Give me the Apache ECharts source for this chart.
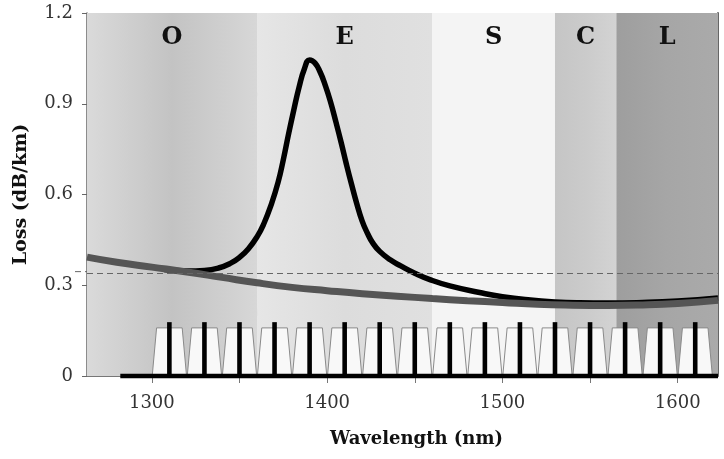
<!DOCTYPE html>
<html>
<head>
<meta charset="utf-8">
<script src="https://cdn.jsdelivr.net/npm/echarts@6/dist/echarts.min.js"></script>
<style>
html, body { margin: 0; padding: 0; background: #fff; }
#chart { width: 724px; height: 459px; }
</style>
</head>
<body>
<div id="chart"></div>
<script>
// bands (nm)
const bandNames = ['O', 'E', 'S', 'C', 'L'];
const bandEdges = [1263, 1360, 1460, 1530, 1565, 1623];

// SSMF loss curve
const ssmfWl = [1307, 1320, 1330, 1338, 1345, 1350, 1355, 1360, 1364, 1368,
  1372, 1375, 1378, 1381, 1384, 1387, 1390, 1393, 1396, 1399,
  1402, 1405, 1408, 1411, 1414, 1417, 1420, 1423, 1426, 1430,
  1436, 1442, 1450, 1459, 1470, 1487, 1500, 1516, 1530, 1544,
  1560, 1580, 1600, 1623];
const ssmfLoss = [0.352, 0.347, 0.349, 0.357, 0.373, 0.392, 0.42, 0.46, 0.505, 0.565,
  0.64, 0.715, 0.80, 0.88, 0.955, 1.015, 1.045, 1.035, 1.005, 0.96,
  0.905, 0.84, 0.772, 0.70, 0.632, 0.568, 0.512, 0.472, 0.44, 0.412,
  0.384, 0.364, 0.34, 0.318, 0.298, 0.276, 0.262, 0.251, 0.245, 0.242,
  0.241, 0.243, 0.248, 0.258];

// ZWP fiber loss curve
const zwpWl = [1263, 1280, 1300, 1320, 1340, 1360, 1380, 1400, 1420, 1440,
  1460, 1480, 1500, 1520, 1540, 1560, 1580, 1600, 1623];
const zwpLoss = [0.393, 0.376, 0.360, 0.344, 0.326, 0.308, 0.293, 0.282, 0.272, 0.264,
  0.256, 0.249, 0.243, 0.237, 0.234, 0.233, 0.235, 0.240, 0.250];

// CWDM grid
const channels = [1310, 1330, 1350, 1370, 1390, 1410, 1430, 1450,
  1470, 1490, 1510, 1530, 1550, 1570, 1590, 1610];
const channelPeak = 0.178;
const filterTop = 0.159;
const baseline = [[1282, 0], [1623, 0]];
const refLoss = 0.345;

const xTicks = [1300, 1350, 1400, 1450, 1500, 1550, 1600];
const xLabels = [1300, 1400, 1500, 1600];

const serif = 'DejaVu Serif';
const bandColors = [
  ['#dadada', '#c3c3c3', '#d7d7d7'],
  ['#e6e6e6', '#dcdcdc', '#e0e0e0'],
  ['#f4f4f4', '#f4f4f4', '#f4f4f4'],
  ['#c5c5c5', '#cbcbcb', '#d3d3d3'],
  ['#9e9e9e', '#a6a6a6', '#aaaaaa']
];

const chart = echarts.init(document.getElementById('chart'));

const bandAreas = bandNames.map((n, i) => [
  {
    name: n, xAxis: bandEdges[i], yAxis: 1.2,
    itemStyle: {
      color: new echarts.graphic.LinearGradient(0, 0, 1, 0, [
        { offset: 0, color: bandColors[i][0] },
        { offset: 0.5, color: bandColors[i][1] },
        { offset: 1, color: bandColors[i][2] }
      ])
    }
  },
  { xAxis: bandEdges[i + 1], yAxis: 0 }
]);

const labels = [
  { type: 'text', left: 212, top: 86, style: { text: 'SSMF', font: 'bold 22px "DejaVu Serif"', fill: '#111' } },
  { type: 'text', left: 225, top: 300, style: { text: 'ZWP fiber', font: 'bold 21px "DejaVu Serif"', fill: '#111' } }
];

let option = {
  animation: false,
  grid: { left: 87, right: 6, top: 13, bottom: 83 },
  xAxis: {
    type: 'value',
    min: 1263,
    max: 1623,
    name: 'Wavelength (nm)',
    nameLocation: 'middle',
    nameGap: 54,
    nameTextStyle: { fontFamily: serif, fontWeight: 'bold', fontSize: 18, color: '#111', padding: [0, 0, 0, 28] },
    axisLine: { show: true, lineStyle: { color: '#777', width: 1 } },
    axisTick: { show: true, length: 7, customValues: xTicks, lineStyle: { color: '#777' } },
    axisLabel: { customValues: xLabels, formatter: v => String(v), margin: 18, fontFamily: serif, fontSize: 18, color: '#333' },
    splitLine: { show: false }
  },
  yAxis: [
    {
      type: 'value',
      min: 0,
      max: 1.2,
      interval: 0.3,
      name: 'Loss (dB/km)',
      nameLocation: 'middle',
      nameGap: 56,
      nameTextStyle: { fontFamily: serif, fontWeight: 'bold', fontSize: 19, color: '#111' },
      axisLine: { show: true, lineStyle: { color: '#666', width: 1.5 } },
      axisTick: { show: true, length: 5, lineStyle: { color: '#666' } },
      axisLabel: { margin: 14, fontFamily: serif, fontSize: 18, color: '#333' },
      splitLine: { show: false }
    },
    {
      type: 'value',
      position: 'right',
      min: 0,
      max: 3.5,
      axisLine: { show: true, lineStyle: { color: '#666', width: 2 } },
      axisTick: { show: true, inside: true, length: 9, customValues: [1, 2, 3], lineStyle: { color: '#666' } },
      axisLabel: { show: false },
      splitLine: { show: false }
    }
  ],
  graphic: labels,
  series: [
    {
      name: 'bands',
      type: 'line',
      data: [],
      z: 0,
      markArea: {
        silent: true,
        label: { show: true, position: 'insideTop', distance: 13, fontFamily: serif, fontWeight: 'bold', fontSize: 24, color: '#111' },
        data: bandAreas
      },
      markLine: {
        silent: true,
        symbol: 'none',
        label: { show: false },
        lineStyle: { type: [6, 4], color: '#666', width: 1 },
        data: [{ yAxis: refLoss }]
      }
    },
    {
      name: 'SSMF',
      type: 'line',
      data: ssmfWl.map((w, i) => [w, ssmfLoss[i]]),
      smooth: 0.5,
      showSymbol: false,
      z: 3,
      lineStyle: { color: '#000', width: 5.5 }
    },
    {
      name: 'ZWP fiber',
      type: 'line',
      data: zwpWl.map((w, i) => [w, zwpLoss[i]]),
      smooth: 0.5,
      showSymbol: false,
      z: 4,
      lineStyle: { color: '#555', width: 7 }
    },
    {
      name: 'filters',
      type: 'custom',
      z: 5,
      data: channels.map(c => [c, filterTop]),
      renderItem: (params, api) => {
        const c = api.value(0);
        const h = api.value(1);
        const pts = [
          api.coord([c - 9.8, 0]),
          api.coord([c - 7.3, h]),
          api.coord([c + 7.3, h]),
          api.coord([c + 9.8, 0])
        ];
        return { type: 'polygon', shape: { points: pts }, style: { fill: '#f8f8f8', stroke: '#8a8a8a', lineWidth: 1 } };
      }
    },
    {
      name: 'channels',
      type: 'custom',
      z: 6,
      data: channels.map(c => [c, channelPeak]),
      renderItem: (params, api) => {
        const top = api.coord([api.value(0), api.value(1)]);
        const bot = api.coord([api.value(0), 0]);
        return { type: 'rect', shape: { x: top[0] - 2.3, y: top[1], width: 4.6, height: bot[1] - top[1] }, style: { fill: '#000' } };
      }
    },
    {
      name: 'baseline',
      type: 'line',
      data: baseline,
      clip: false,
      showSymbol: false,
      z: 7,
      lineStyle: { color: '#000', width: 4.5 }
    }
  ]
};
chart.setOption(option);

// dashed reference line runs a little past the left axis
const yRef = chart.convertToPixel({ yAxisIndex: 0 }, refLoss);
chart.setOption({
  graphic: labels.concat([
    { type: 'line', shape: { x1: 75, y1: yRef, x2: 87, y2: yRef }, style: { stroke: '#666', lineWidth: 1, lineDash: [6, 4] } }
  ])
});
</script>
</body>
</html>
